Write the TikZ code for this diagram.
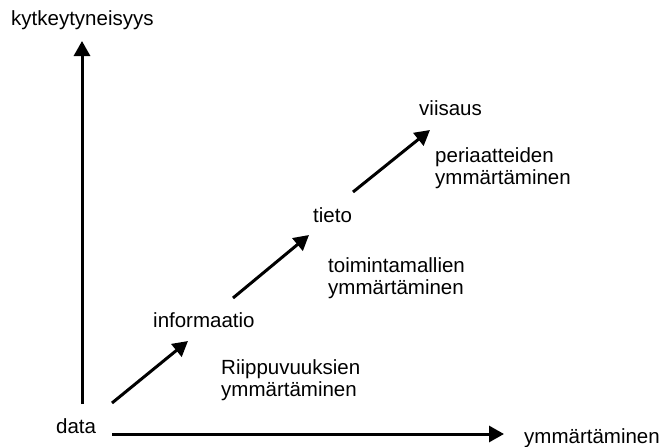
\documentclass[tikz,border=0pt]{standalone}
\usepackage{fontspec}
\setmainfont{Liberation Sans}
\usetikzlibrary{arrows.meta}
\begin{document}
\begin{tikzpicture}[x=1pt,y=-1pt,
  lbl/.style={anchor=base west,inner sep=0pt,font=\fontsize{20.5}{22}\selectfont,align=left},
  arr/.style={line width=3pt,-{Triangle[width=16pt,length=15pt]}}]
\useasboundingbox (0,0) rectangle (667,447);
% axis labels
\node[lbl] (yl) at (11,25) {kytkeytyneisyys};
\node[lbl] (xl) at (524,443) {ymmärtäminen};
% stage labels
\node[lbl] (data) at (56,433) {data};
\node[lbl] (info) at (153,327) {informaatio};
\node[lbl] (tieto) at (313,222) {tieto};
\node[lbl] (viis) at (419,115) {viisaus};
% step descriptions (anchored at the baseline of the second line)
\node[lbl] (d1) at (221,396) {Riippuvuuksien\\ymmärtäminen};
\node[lbl] (d2) at (328,294) {toimintamallien\\ymmärtäminen};
\node[lbl] (d3) at (435,184) {periaatteiden\\ymmärtäminen};
% arrow end points
\coordinate (v0) at (82,404);
\coordinate (v1) at (82,41);
\coordinate (h0) at (112,434);
\coordinate (h1) at (504,434);
\coordinate (a0) at (112,403);
\coordinate (a1) at (188,341);
\coordinate (b0) at (233,298);
\coordinate (b1) at (309,235);
\coordinate (c0) at (353,192);
\coordinate (c1) at (430,130);
% axes
\draw[arr] (v0) -- (v1);
\draw[arr] (h0) -- (h1);
% steps
\draw[arr] (a0) -- (a1);
\draw[arr] (b0) -- (b1);
\draw[arr] (c0) -- (c1);
\end{tikzpicture}
\end{document}
